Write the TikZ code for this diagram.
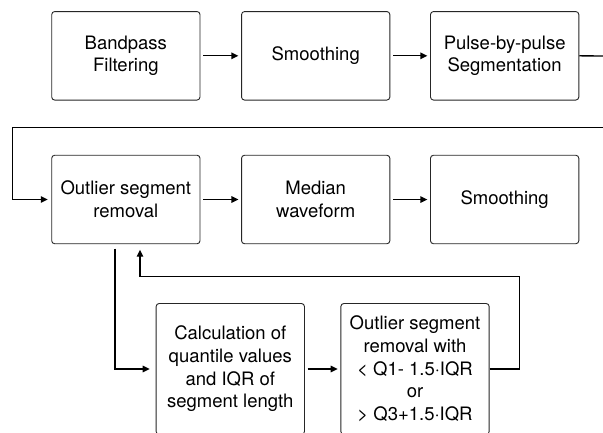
\documentclass[tikz,border=0pt]{standalone}
\usepackage{fontspec}
\setmainfont{TeX Gyre Heros}
\usetikzlibrary{arrows.meta}
\begin{document}
\begin{tikzpicture}[x=1pt,y=-1pt,
  procbox/.style={draw=black!85, line width=0.9pt, rounded corners=3pt, fill=white,
    minimum width=148.3pt, minimum height=88.5pt, inner sep=0pt, align=center,
    font=\fontsize{18.5}{22.7}\selectfont},
  tallbox/.style={procbox, minimum height=131pt},
  conn/.style={line width=1.35pt, black},
  arr/.style={conn, -{Triangle[length=7pt,width=6.5pt]}}
]
\useasboundingbox (0,0) rectangle (603,432);
\clip (0,0) rectangle (603,432);
% row 1
\node[procbox] (bp) at (125.85,55.8) {Bandpass\\Filtering};
\node[procbox] (sm1) at (315.7,55.8) {Smoothing};
\node[procbox] (seg) at (504.65,55.8) {Pulse-by-pulse\\Segmentation};
% row 2
\node[procbox] (out) at (125.85,199.5) {Outlier segment\\removal};
\node[procbox] (med) at (315.7,199.5) {Median\\waveform};
\node[procbox] (sm2) at (504.65,199.5) {Smoothing};
% bottom row
\node[tallbox] (calc) at (230.3,369) {Calculation of\\quantile values\\and IQR of\\segment length};
\node[tallbox] (rem) at (415,369) {Outlier segment\\removal with\\< Q1- 1.5·IQR\\or\\> Q3+1.5·IQR};
% free ends at picture border
\coordinate (segend) at (603,56);
\coordinate (wrapstart) at (603,127.7);
\coordinate (wrapleft) at (12.7,127.7);
\coordinate (downx) at (115,0);
\coordinate (fbx) at (140,0);
\coordinate (fbright) at (519.3,276.3);
% row 1 arrows
\draw[arr, shorten <=2.7pt, shorten >=2.7pt] (bp.east) -- (sm1.west);
\draw[arr, shorten <=2.7pt, shorten >=2.7pt] (sm1.east) -- (seg.west);
\draw[conn] (seg.east) -- (segend);
% wrap line
\draw[arr, shorten >=3.5pt] (wrapstart) -- (wrapleft) |- (out.west);
% row 2 arrows
\draw[arr, shorten <=2.7pt, shorten >=2.7pt] (out.east) -- (med.west);
\draw[arr, shorten <=2.7pt, shorten >=2.7pt] (med.east) -- (sm2.west);
% down to calculation
\draw[arr, shorten >=6pt] (downx |- 248.7,248.7) |- (calc.west);
\draw[arr, shorten <=2.7pt, shorten >=2.7pt] (calc.east) -- (rem.west);
% feedback loop
\draw[arr, shorten >=5.5pt] (rem.east) -| (fbright) -- (fbx |- fbright) -- (fbx |- out.south);
\end{tikzpicture}
\end{document}
